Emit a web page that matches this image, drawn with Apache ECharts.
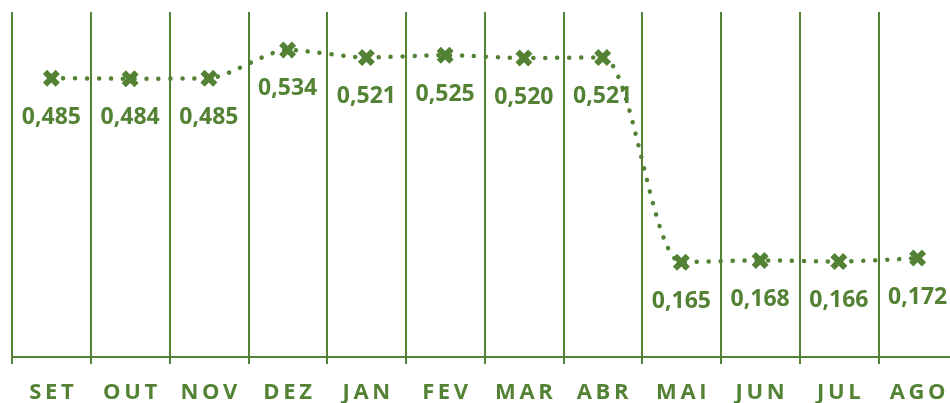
<!DOCTYPE html>
<html><head><meta charset="utf-8">
<script src="https://cdn.jsdelivr.net/npm/echarts@6/dist/echarts.min.js"></script>
<style>html,body{margin:0;padding:0;background:#fff}#c{width:950px;height:403px}</style>
</head><body><div id="c"></div>
<script>
const categories = ['SET','OUT','NOV','DEZ','JAN','FEV','MAR','ABR','MAI','JUN','JUL','AGO'];
const values = [0.485,0.484,0.485,0.534,0.521,0.525,0.520,0.521,0.165,0.168,0.166,0.172];
const green = '#548235';
const xPath = 'path://M2.5,0 L5,2.5 L7.5,0 L10,2.5 L7.5,5 L10,7.5 L7.5,10 L5,7.5 L2.5,10 L0,7.5 L2.5,5 L0,2.5 Z';
const chart = echarts.init(document.getElementById('c'));
chart.setOption({
  animation:false,
  grid:{left:12,width:945,top:12,bottom:46,containLabel:false,outerBoundsMode:'none'},
  xAxis:{type:'category',data:categories,boundaryGap:true,
    axisLine:{lineStyle:{color:green,width:2}},
    axisTick:{show:true,length:7,lineStyle:{color:green,width:2}},
    splitLine:{show:true,lineStyle:{color:green,width:2}},
    axisLabel:{color:green,fontFamily:'Open Sans',fontWeight:'bold',fontSize:22,margin:25,
      formatter:v=>v.split('').join('\u2009')}
  },
  yAxis:{type:'value',min:0,max:0.6,show:false,splitLine:{show:false}},
  series:[{type:'line',data:values,smooth:0.25,symbol:xPath,symbolSize:17,
    itemStyle:{color:green},
    lineStyle:{color:green,width:4.5,type:[0.1,11.8],cap:'round'},
    label:{show:true,position:'bottom',distance:19,color:green,fontFamily:'Open Sans',fontWeight:'bold',fontSize:23,
      formatter:p=>p.value.toFixed(3).replace('.',',')}
  }]
});
</script></body></html>
